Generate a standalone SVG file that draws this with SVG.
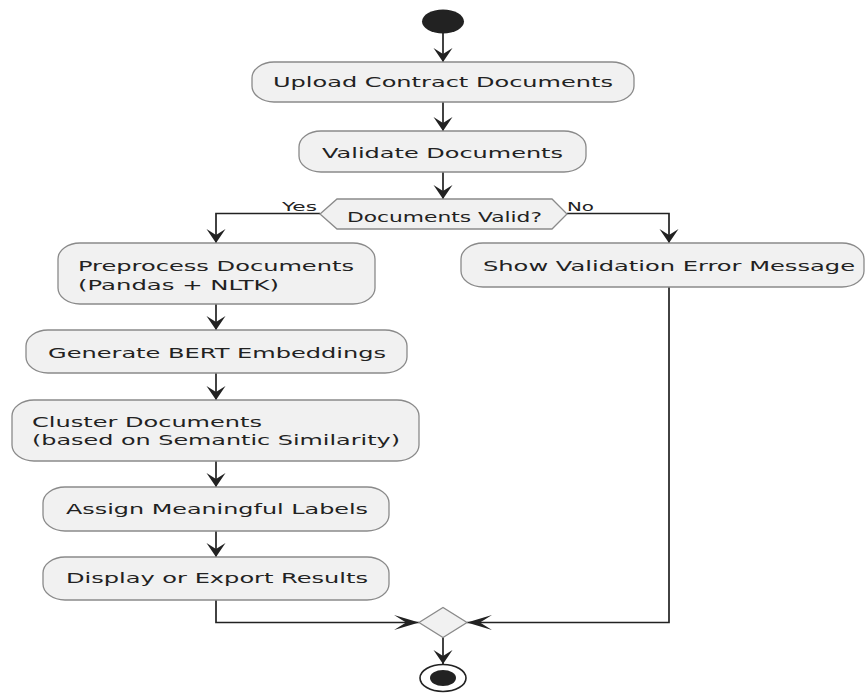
<svg xmlns="http://www.w3.org/2000/svg" width="865" height="693" viewBox="0 0 865 693">
  <style>
    .box { fill: #F1F1F1; stroke: #8a8a8a; stroke-width: 1.3; }
    .lbl { font-family: "DejaVu Sans", "Liberation Sans", sans-serif; font-size: 14px; fill: #222222; }
    .small { font-size: 13px; }
    .edge { fill: none; stroke: #222222; stroke-width: 1.7; }
  </style>
  <defs>
    <!-- downward arrowhead (tall, narrow) -->
    <marker id="arrow-v" markerUnits="userSpaceOnUse" viewBox="-16 -11 18 22" markerWidth="18" markerHeight="22" refX="0" refY="0" orient="auto" overflow="visible">
      <path d="M0,0 L-14,-9.5 L-8,0 L-14,9.5 Z" fill="#222222"/>
    </marker>
    <!-- sideways arrowhead (long, flat) -->
    <marker id="arrow-h" markerUnits="userSpaceOnUse" viewBox="-26 -8 28 16" markerWidth="28" markerHeight="16" refX="0" refY="0" orient="auto" overflow="visible">
      <path d="M0,0 L-25,-7.5 L-13,0 L-25,7.5 Z" fill="#222222"/>
    </marker>
  </defs>

  <g id="connectors">
    <path class="edge" d="M443,33 L443,62" marker-end="url(#arrow-v)"/>
    <path class="edge" d="M443,102 L443,131" marker-end="url(#arrow-v)"/>
    <path class="edge" d="M443,172 L443,199" marker-end="url(#arrow-v)"/>
    <path class="edge" d="M320,213.5 L216,213.5 L216,243" marker-end="url(#arrow-v)"/>
    <path class="edge" d="M567,213.5 L669,213.5 L669,243" marker-end="url(#arrow-v)"/>
    <path class="edge" d="M216,304 L216,330" marker-end="url(#arrow-v)"/>
    <path class="edge" d="M216,373 L216,400" marker-end="url(#arrow-v)"/>
    <path class="edge" d="M216,461 L216,487" marker-end="url(#arrow-v)"/>
    <path class="edge" d="M216,531 L216,557" marker-end="url(#arrow-v)"/>
    <path class="edge" d="M216,600 L216,622.5 L419,622.5" marker-end="url(#arrow-h)"/>
    <path class="edge" d="M669,287 L669,622.5 L467,622.5" marker-end="url(#arrow-h)"/>
    <path class="edge" d="M443,637 L443,664" marker-end="url(#arrow-v)"/>
    <text class="lbl small" x="282" y="211" textLength="35" lengthAdjust="spacingAndGlyphs">Yes</text>
    <text class="lbl small" x="567" y="211" textLength="27" lengthAdjust="spacingAndGlyphs">No</text>
  </g>

  <g id="start">
    <ellipse cx="443" cy="21.5" rx="21" ry="12" fill="#222222"/>
  </g>

  <g id="upload">
    <rect class="box" x="252" y="62" width="382" height="40" rx="22" ry="16"/>
    <text class="lbl" x="273" y="87" textLength="340" lengthAdjust="spacingAndGlyphs">Upload Contract Documents</text>
  </g>

  <g id="validate">
    <rect class="box" x="299" y="131" width="287" height="41" rx="22" ry="16"/>
    <text class="lbl" x="322" y="158" textLength="241" lengthAdjust="spacingAndGlyphs">Validate Documents</text>
  </g>

  <g id="valid-check">
    <polygon class="box" points="320,214 337,199 552,199 567,214 552,229 337,229"/>
    <text class="lbl" x="347" y="222" textLength="195" lengthAdjust="spacingAndGlyphs">Documents Valid?</text>
  </g>

  <g id="preprocess">
    <rect class="box" x="58" y="243" width="317" height="61" rx="22" ry="16"/>
    <text class="lbl" x="78" y="271" textLength="276" lengthAdjust="spacingAndGlyphs">Preprocess Documents</text>
    <text class="lbl" x="78" y="290" textLength="201" lengthAdjust="spacingAndGlyphs">(Pandas + NLTK)</text>
  </g>

  <g id="show-error">
    <rect class="box" x="461" y="243" width="403" height="44" rx="22" ry="16"/>
    <text class="lbl" x="483" y="271" textLength="372" lengthAdjust="spacingAndGlyphs">Show Validation Error Message</text>
  </g>

  <g id="embeddings">
    <rect class="box" x="26" y="330" width="381" height="43" rx="22" ry="16"/>
    <text class="lbl" x="48" y="358" textLength="338" lengthAdjust="spacingAndGlyphs">Generate BERT Embeddings</text>
  </g>

  <g id="cluster">
    <rect class="box" x="12" y="400" width="407" height="61" rx="22" ry="16"/>
    <text class="lbl" x="32" y="427" textLength="230" lengthAdjust="spacingAndGlyphs">Cluster Documents</text>
    <text class="lbl" x="32" y="445" textLength="368" lengthAdjust="spacingAndGlyphs">(based on Semantic Similarity)</text>
  </g>

  <g id="labels">
    <rect class="box" x="43" y="487" width="346" height="44" rx="22" ry="16"/>
    <text class="lbl" x="66" y="514" textLength="302" lengthAdjust="spacingAndGlyphs">Assign Meaningful Labels</text>
  </g>

  <g id="export">
    <rect class="box" x="43" y="557" width="346" height="43" rx="22" ry="16"/>
    <text class="lbl" x="66" y="583" textLength="302" lengthAdjust="spacingAndGlyphs">Display or Export Results</text>
  </g>

  <g id="merge">
    <polygon class="box" points="419,622.5 443,607.5 467,622.5 443,637.5"/>
  </g>

  <g id="end">
    <ellipse cx="443" cy="678" rx="23" ry="13.5" fill="#ffffff" stroke="#222222" stroke-width="1.6"/>
    <ellipse cx="443" cy="678" rx="13" ry="8" fill="#222222"/>
  </g>
</svg>
